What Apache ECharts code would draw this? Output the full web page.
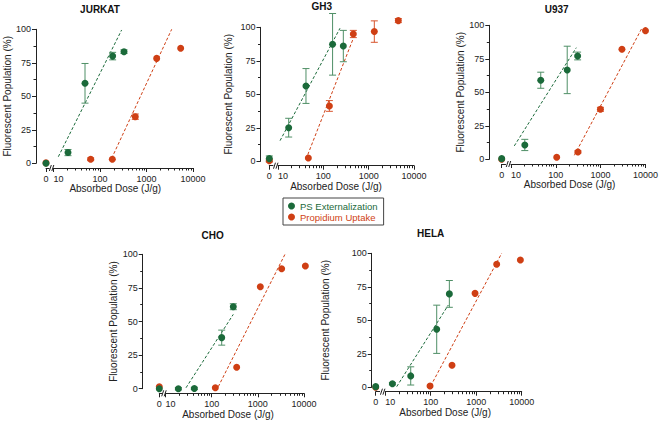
<!DOCTYPE html>
<html><head><meta charset="utf-8">
<script src="https://cdn.jsdelivr.net/npm/echarts@6/dist/echarts.min.js"></script>
<style>html,body{margin:0;padding:0;background:#fff}#c{width:661px;height:422px}</style>
</head><body><div id="c"></div>
<script>
// ---------------- DATA ----------------
const panelNames = ['JURKAT', 'GH3', 'U937', 'CHO', 'HELA'];
const seriesNames = ['PS Externalization', 'Propidium Uptake'];
const xMajorTicks = [10, 100, 1000, 10000];
const xMinorTicks = [20, 30, 40, 50, 60, 70, 80, 90, 200, 300, 400, 500, 600, 700, 800, 900, 2000, 3000, 4000, 5000, 6000, 7000, 8000, 9000];
const yTicks = [0, 25, 50, 75, 100];

// JURKAT
const jurkatPsDose = [0, 20.5, 47.6, 187, 328];
const jurkatPsPct = [0, 8, 59.7, 80, 83.3];
const jurkatPsErr = [0, 2.3, 14.8, 2.8, 1.4];
const jurkatPiDose = [0, 63, 184, 574, 1655, 5430];
const jurkatPiPct = [0.3, 3, 3, 34.8, 78.3, 85.8];
const jurkatPiErr = [0, 1, 0, 2, 0, 0];
const jurkatPsFitDose = [12.7, 292];
const jurkatPsFitPct = [4.9, 99.5];
const jurkatPiFitDose = [178, 3480];
const jurkatPiFitPct = [3.7, 100];

// GH3
const gh3PsDose = [0, 17.2, 41.4, 160, 276];
const gh3PsPct = [2, 25.1, 56.2, 87.3, 86];
const gh3PsErr = [2, 7, 13, 23, 11.7];
const gh3PiDose = [0, 46.7, 136, 459, 1333, 4510];
const gh3PiPct = [0.5, 2.5, 41.3, 95, 96.8, 105];
const gh3PiErr = [1, 0, 4, 2.7, 8, 1.5];
const gh3PsFitDose = [11.1, 233];
const gh3PsFitPct = [15.4, 99.3];
const gh3PiFitDose = [41.4, 459];
const gh3PiFitPct = [1.5, 91.8];

// U937
const u937PsDose = [0, 20.4, 46.3, 180, 307];
const u937PsPct = [0.5, 10.7, 59, 66.7, 77.1];
const u937PsErr = [0, 4.2, 6, 17.7, 2.9];
const u937PiDose = [0, 105, 312, 990, 2990, 10000];
const u937PiPct = [0, 1.5, 5.5, 37.3, 82.1, 96];
const u937PiErr = [0, 0, 0.8, 1.5, 0, 0];
const u937PsFitDose = [11.9, 287];
const u937PsFitPct = [10, 83.3];
const u937PiFitDose = [260, 8450];
const u937PiFitPct = [3, 98.3];

// CHO
const choPsDose = [0, 19, 42.1, 165, 294];
const choPsPct = [0, 0, 0.2, 38, 61];
const choPsErr = [0, 0.8, 0.8, 5.6, 2.2];
const choPiDose = [0, 120, 348, 1133, 3280, 10700];
const choPiPct = [1.5, 0.7, 15.9, 75.9, 89.3, 91.3];
const choPiErr = [0, 0, 0, 0, 0, 0];
const choPsFitDose = [27.8, 294];
const choPsFitPct = [0.7, 55.3];
const choPiFitDose = [139, 3870];
const choPiFitPct = [1.5, 100];

// HELA
const helaPsDose = [0, 14.4, 36.4, 135.5, 257];
const helaPsPct = [0.5, 2.7, 8.5, 43.3, 69.7];
const helaPsErr = [0, 0.8, 6.8, 18, 10];
const helaPiDose = [0, 96.7, 294, 943, 2820, 9350];
const helaPiPct = [0, 1, 16.4, 70.1, 91.8, 95];
const helaPiErr = [0, 0, 0, 0, 0, 0];
const helaPsFitDose = [17.9, 244];
const helaPsFitPct = [0.5, 61.4];
const helaPiFitDose = [100, 3630];
const helaPiFitPct = [1, 100];

const panelData = [
  {ps: [jurkatPsDose, jurkatPsPct, jurkatPsErr], pi: [jurkatPiDose, jurkatPiPct, jurkatPiErr], psFit: [jurkatPsFitDose, jurkatPsFitPct], piFit: [jurkatPiFitDose, jurkatPiFitPct]},
  {ps: [gh3PsDose, gh3PsPct, gh3PsErr], pi: [gh3PiDose, gh3PiPct, gh3PiErr], psFit: [gh3PsFitDose, gh3PsFitPct], piFit: [gh3PiFitDose, gh3PiFitPct]},
  {ps: [u937PsDose, u937PsPct, u937PsErr], pi: [u937PiDose, u937PiPct, u937PiErr], psFit: [u937PsFitDose, u937PsFitPct], piFit: [u937PiFitDose, u937PiFitPct]},
  {ps: [choPsDose, choPsPct, choPsErr], pi: [choPiDose, choPiPct, choPiErr], psFit: [choPsFitDose, choPsFitPct], piFit: [choPiFitDose, choPiFitPct]},
  {ps: [helaPsDose, helaPsPct, helaPsErr], pi: [helaPiDose, helaPiPct, helaPiErr], psFit: [helaPsFitDose, helaPsFitPct], piFit: [helaPiFitDose, helaPiFitPct]}
];

// ---------------- LAYOUT / STYLE ----------------
const layout = [
  {yAxisX: 36,    y100: 29.3,  y0: 163.3, axisY: 168,   zeroX: 46,    x10: 53.5,  x10000: 193,   tx: 100,   ty: 10.7,  yGap: 23,   xShift: 8},
  {yAxisX: 260.5, y100: 27.3,  y0: 161.3, axisY: 165.7, zeroX: 269.3, x10: 278,   x10000: 414,   tx: 321.7, ty: 7.3,   yGap: 27,   xShift: 10},
  {yAxisX: 489.3, y100: 25.3,  y0: 159.3, axisY: 164,   zeroX: 501.7, x10: 510.9, x10000: 648.3, tx: 556.7, ty: 10,    yGap: 21.5, xShift: 8.6},
  {yAxisX: 142.7, y100: 254.3, y0: 388.7, axisY: 393.3, zeroX: 159.3, x10: 165.5, x10000: 304,   tx: 212.7, ty: 236,   yGap: 16,   xShift: 6.7},
  {yAxisX: 371.7, y100: 253.3, y0: 387.3, axisY: 391.7, zeroX: 375.7, x10: 385.2, x10000: 521.7, tx: 430.7, ty: 234.3, yGap: 41.5, xShift: 8.3}
];
const FONT = '"Liberation Sans", Arial, sans-serif';
const GREEN = '#1b6a3a', GREEN_ERR = '#4f8f66', RED = '#cf3f14', RED_ERR = '#d8552e';
const AX = '#222';

function errRender(color) {
  return function (params, api) {
    const x = api.value(0), y = api.value(1), e = api.value(2);
    if (!(e > 0)) return null;
    const lo = api.coord([x, y - e]);
    const hi = api.coord([x, y + e]);
    const c = 3.5;
    const st = {stroke: color, lineWidth: 1};
    return {type: 'group', children: [
      {type: 'line', shape: {x1: lo[0], y1: lo[1], x2: hi[0], y2: hi[1]}, style: st},
      {type: 'line', shape: {x1: lo[0] - c, y1: lo[1], x2: lo[0] + c, y2: lo[1]}, style: st},
      {type: 'line', shape: {x1: hi[0] - c, y1: hi[1], x2: hi[0] + c, y2: hi[1]}, style: st}
    ]};
  };
}

const grids = [], xAxes = [], yAxes = [], series = [], titles = [], graphics = [];

panelNames.forEach((name, i) => {
  const L = layout[i];
  const D = panelData[i];
  const h = L.y0 - L.y100;
  const zeroW = (L.x10 - L.zeroX) * 0.42;
  const off = L.axisY - L.y0;

  const gz = grids.length;
  grids.push({left: L.zeroX, top: L.y100, width: zeroW, height: h});
  const gl = grids.length;
  grids.push({left: L.x10, top: L.y100, width: L.x10000 - L.x10, height: h});

  const lineSt = {color: AX, width: 1};
  const xz = xAxes.length;
  xAxes.push({type: 'value', gridIndex: gz, position: 'bottom', min: 0, max: 1, offset: off,
    axisLine: {show: true, onZero: false, lineStyle: lineSt},
    axisTick: {show: true, customValues: [0], length: 4, lineStyle: lineSt},
    axisLabel: {customValues: [0], margin: 6, fontSize: 9, color: AX, fontFamily: FONT, formatter: v => String(v)},
    splitLine: {show: false}});
  const xl = xAxes.length;
  xAxes.push({type: 'log', logBase: 10, gridIndex: gl, position: 'bottom', min: 10, max: 10000, offset: off,
    axisLine: {show: true, onZero: false, lineStyle: lineSt},
    axisTick: {show: true, customValues: xMajorTicks, length: 4, lineStyle: lineSt},
    axisLabel: {customValues: xMajorTicks, margin: 6, fontSize: 9, color: AX, fontFamily: FONT,
      formatter: v => { const r = Math.round(v); return r === 10 ? '{s|10}' : String(r); },
      rich: {s: {padding: [0, 0, 0, 10], fontSize: 9, color: AX, fontFamily: FONT}}},
    splitLine: {show: false},
    name: 'Absorbed Dose (J/g)', nameLocation: 'middle', nameGap: 15.5,
    nameTextStyle: {fontSize: 10, color: AX, fontFamily: FONT, padding: [0, 2 * L.xShift, 0, 0]}});
  xAxes.push({type: 'log', logBase: 10, gridIndex: gl, position: 'bottom', min: 10, max: 10000, offset: off,
    axisLine: {show: false, onZero: false},
    axisTick: {show: true, customValues: xMinorTicks, length: 2.5, lineStyle: lineSt},
    axisLabel: {show: false}, splitLine: {show: false}});

  const yz = yAxes.length;
  yAxes.push({type: 'value', gridIndex: gz, position: 'left', min: 0, max: 100, interval: 25, offset: L.zeroX - L.yAxisX,
    axisLine: {show: true, onZero: false, lineStyle: lineSt},
    axisTick: {show: true, length: 4, lineStyle: lineSt},
    minorTick: {show: true, splitNumber: 2, length: 2.5, lineStyle: lineSt},
    axisLabel: {fontSize: 9, margin: 5, color: AX, fontFamily: FONT},
    splitLine: {show: false}, minorSplitLine: {show: false},
    name: 'Fluorescent Population (%)', nameLocation: 'middle', nameGap: L.yGap,
    nameTextStyle: {fontSize: 10, color: AX, fontFamily: FONT}});
  const yl = yAxes.length;
  yAxes.push({type: 'value', gridIndex: gl, position: 'left', min: 0, max: 100, show: false, splitLine: {show: false}});

  titles.push({text: name, left: L.tx, top: L.ty - 6, textAlign: 'center', padding: 0,
    textStyle: {fontSize: 10, fontWeight: 'bold', color: '#111', fontFamily: FONT}});

  // break marks
  const gs = L.zeroX + zeroW, ge = L.x10;
  const a = gs + (ge - gs - 4) / 2;
  [0, 2.5].forEach(dx => graphics.push({type: 'line', silent: true,
    shape: {x1: a + dx, y1: L.axisY + 3, x2: a + dx + 2, y2: L.axisY - 3},
    style: {stroke: AX, lineWidth: 1}}));

  const groups = [
    {key: 'pi', fit: 'piFit', name: seriesNames[1], color: RED, err: RED_ERR},
    {key: 'ps', fit: 'psFit', name: seriesNames[0], color: GREEN, err: GREEN_ERR}
  ];
  groups.forEach(g => {
    const [dose, pct, err] = D[g.key];
    const rows = dose.map((d, k) => [d, pct[k], err[k]]);
    const zeroRows = rows.filter(r => r[0] === 0);
    const logRows = rows.filter(r => r[0] > 0);
    const [fd, fp] = D[g.fit];
    series.push({type: 'line', name: g.name, xAxisIndex: xl, yAxisIndex: yl, z: 1, clip: false, silent: true,
      symbol: 'none', data: fd.map((d, k) => [d, fp[k]]), itemStyle: {color: g.color},
      lineStyle: {color: g.color, width: 1, type: [3, 2]}, animation: false});
    series.push({type: 'custom', name: g.name, xAxisIndex: xl, yAxisIndex: yl, z: 2, clip: false, silent: true,
      encode: {x: 0, y: 1}, data: logRows, renderItem: errRender(g.err), itemStyle: {color: g.color}, animation: false});
    series.push({type: 'custom', name: g.name, xAxisIndex: xz, yAxisIndex: yz, z: 2, clip: false, silent: true,
      encode: {x: 0, y: 1}, data: zeroRows, renderItem: errRender(g.err), itemStyle: {color: g.color}, animation: false});
  });
  groups.forEach(g => {
    const [dose, pct] = D[g.key];
    const rows = dose.map((d, k) => [d, pct[k]]);
    series.push({type: 'scatter', name: g.name, xAxisIndex: xl, yAxisIndex: yl, z: 3, clip: false,
      symbol: 'circle', symbolSize: 7, itemStyle: {color: g.color, opacity: 1},
      data: rows.filter(r => r[0] > 0), animation: false});
    series.push({type: 'scatter', name: g.name, xAxisIndex: xz, yAxisIndex: yz, z: 3, clip: false,
      symbol: 'circle', symbolSize: 7, itemStyle: {color: g.color, opacity: 1},
      data: rows.filter(r => r[0] === 0), animation: false});
  });
});

const chart = echarts.init(document.getElementById('c'), null, {renderer: 'svg'});
chart.setOption({
  backgroundColor: '#fff',
  animation: false,
  textStyle: {fontFamily: FONT},
  title: titles,
  legend: {left: 283, top: 198, orient: 'vertical', padding: [3, 6, 3, 5], itemGap: 1,
    itemWidth: 7, itemHeight: 7, borderColor: '#444', borderWidth: 1, selectedMode: false,
    textStyle: {fontSize: 9.5, fontFamily: FONT},
    data: [
      {name: seriesNames[0], icon: 'circle', itemStyle: {color: GREEN}, textStyle: {color: GREEN}},
      {name: seriesNames[1], icon: 'circle', itemStyle: {color: RED}, textStyle: {color: RED}}
    ]},
  grid: grids,
  xAxis: xAxes,
  yAxis: yAxes,
  series: series,
  graphic: graphics
});
</script></body></html>
